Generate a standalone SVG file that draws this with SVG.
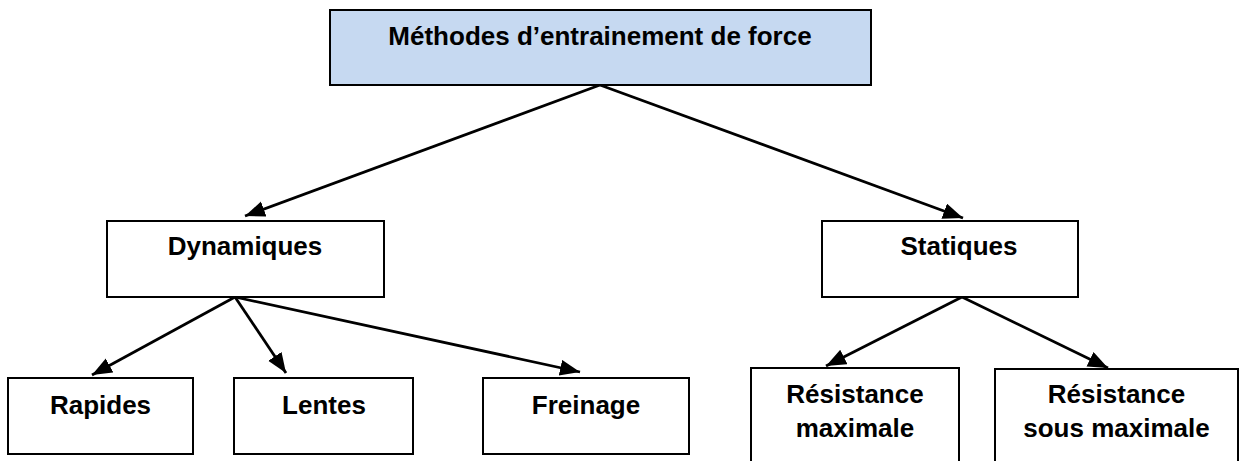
<svg xmlns="http://www.w3.org/2000/svg" width="1242" height="461" viewBox="0 0 1242 461">
  <defs>
    <style>
      .box { fill: #ffffff; stroke: #000000; stroke-width: 2; }
      .title { fill: #C6D9F1; stroke: #000000; stroke-width: 2; }
      .lbl { font-family: "Liberation Sans", Arial, sans-serif; font-weight: bold; font-size: 26px; fill: #000000; text-anchor: middle; }
      .conn { stroke: #000000; stroke-width: 2.8; fill: none; marker-end: url(#arrow); }
    </style>
    <marker id="arrow" markerUnits="userSpaceOnUse" markerWidth="22" markerHeight="18" refX="20" refY="8" orient="auto">
      <path d="M0,0 L20,8 L0,16 z" fill="#000000"/>
    </marker>
  </defs>
  <rect width="1242" height="461" fill="#ffffff"/>

  <g id="connectors">
    <line class="conn" x1="600" y1="85" x2="245" y2="216"/>
    <line class="conn" x1="600" y1="85" x2="963" y2="218"/>
    <line class="conn" x1="235" y1="297" x2="92" y2="375"/>
    <line class="conn" x1="235" y1="297" x2="286" y2="373"/>
    <line class="conn" x1="235" y1="297" x2="580" y2="372"/>
    <line class="conn" x1="962" y1="297" x2="826" y2="366"/>
    <line class="conn" x1="962" y1="297" x2="1108" y2="368"/>
  </g>

  <g id="node-methodes">
    <rect class="title" x="330" y="10" width="541" height="75"/>
    <text class="lbl" x="600" y="45">Méthodes d’entrainement de force</text>
  </g>

  <g id="node-dynamiques">
    <rect class="box" x="107" y="221" width="277" height="76"/>
    <text class="lbl" x="245" y="255">Dynamiques</text>
  </g>

  <g id="node-statiques">
    <rect class="box" x="822" y="221" width="256" height="76"/>
    <text class="lbl" x="959" y="255">Statiques</text>
  </g>

  <g id="node-rapides">
    <rect class="box" x="8" y="378" width="185" height="76"/>
    <text class="lbl" x="100.5" y="414">Rapides</text>
  </g>

  <g id="node-lentes">
    <rect class="box" x="234" y="378" width="179" height="76"/>
    <text class="lbl" x="324" y="414">Lentes</text>
  </g>

  <g id="node-freinage">
    <rect class="box" x="483" y="378" width="206" height="76"/>
    <text class="lbl" x="586" y="414">Freinage</text>
  </g>

  <g id="node-resistance-max">
    <rect class="box" x="751" y="368" width="208" height="110"/>
    <text class="lbl" x="855" y="403">Résistance</text>
    <text class="lbl" x="855" y="437">maximale</text>
  </g>

  <g id="node-resistance-sous-max">
    <rect class="box" x="995" y="369" width="243" height="110"/>
    <text class="lbl" x="1116.5" y="403">Résistance</text>
    <text class="lbl" x="1116.5" y="437">sous maximale</text>
  </g>
</svg>
